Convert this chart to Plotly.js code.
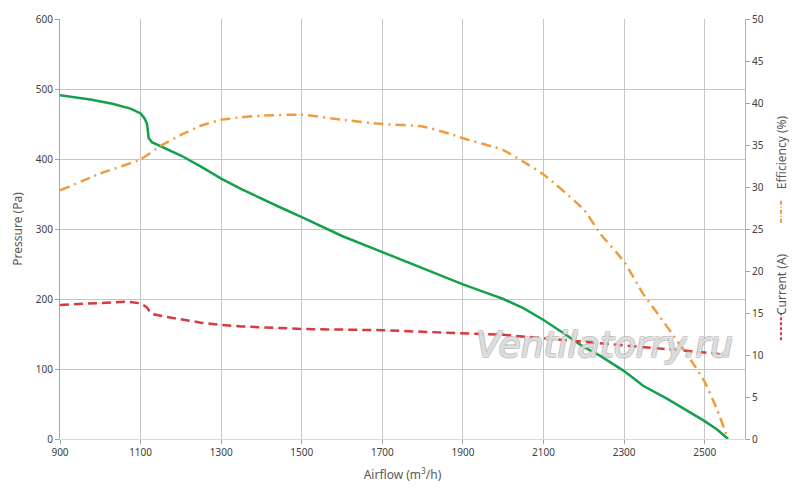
<!DOCTYPE html>
<html>
<head>
<meta charset="utf-8">
<script src="https://cdn.plot.ly/plotly-3.0.1.min.js"></script>
<style>
  html, body { margin: 0; padding: 0; background: #fff; }
  #chart { width: 800px; height: 495px; }
</style>
</head>
<body>
<div id="chart"></div>
<script>
// Pressure curve (Pa, left axis)
const pressureX = [900, 975, 1030, 1075, 1100, 1110, 1116, 1118, 1120, 1128, 1150, 1200, 1250, 1300, 1350, 1400, 1450, 1500, 1600, 1700, 1800, 1900, 1967, 2000, 2050, 2075, 2100, 2150, 2198, 2240, 2300, 2325, 2347, 2405, 2450, 2496, 2530, 2558];
const pressureY = [491, 485, 479, 472, 465, 458, 450, 440, 430, 424, 418, 405, 389, 372, 357, 343, 330, 317, 290, 267, 244, 221, 207, 200, 187, 179, 170, 151, 132, 119, 97, 86, 76, 58, 43, 27, 14, 0];

// Efficiency curve (%, right axis)
const effX = [900, 1000, 1100, 1150, 1200, 1250, 1300, 1350, 1400, 1500, 1600, 1700, 1800, 1870, 1900, 2000, 2050, 2100, 2200, 2240, 2300, 2347, 2388, 2430, 2471, 2500, 2531, 2558];
const effY = [29.6, 31.6, 33.3, 34.9, 36.2, 37.3, 38.0, 38.3, 38.5, 38.6, 38.0, 37.5, 37.2, 36.3, 35.8, 34.4, 33.0, 31.5, 27.3, 24.5, 21.1, 17.3, 14.6, 11.8, 9.0, 6.8, 3.45, 0];

// Current curve (A, right axis)
const currX = [900, 1000, 1065, 1100, 1115, 1127, 1180, 1250, 1300, 1350, 1500, 1700, 1870, 1900, 2000, 2100, 2240, 2300, 2500, 2558];
const currY = [15.95, 16.2, 16.35, 16.15, 15.7, 14.9, 14.4, 13.85, 13.57, 13.4, 13.1, 12.95, 12.65, 12.6, 12.4, 12.0, 11.4, 11.2, 10.3, 10.0];

const green = '#14a04c';
const orange = '#f09c3c';
const red = '#d8393c';
const tickFont = { family: 'Noto Sans, sans-serif', size: 10, color: '#404040' };
const titleFont = { family: 'Noto Sans, sans-serif', size: 12, color: '#595959' };

const traces = [
  {
    x: pressureX, y: pressureY, type: 'scatter', mode: 'lines', name: 'Pressure',
    line: { color: green, width: 2.5 }
  },
  {
    x: effX, y: effY, type: 'scatter', mode: 'lines', name: 'Efficiency', yaxis: 'y2',
    line: { color: orange, width: 2.5, dash: '10px,5px,2px,5px', shape: 'spline', smoothing: 0.5 }
  },
  {
    x: currX, y: currY, type: 'scatter', mode: 'lines', name: 'Current', yaxis: 'y2',
    line: { color: red, width: 2.5, dash: '9px,5px' }
  }
];

const layout = {
  width: 800, height: 495,
  margin: { l: 60, r: 55, t: 19, b: 56 },
  paper_bgcolor: '#fff', plot_bgcolor: '#fff',
  showlegend: false,
  font: tickFont,
  xaxis: {
    range: [900, 2600], tick0: 900, dtick: 200,
    showgrid: true, gridcolor: '#c6c6c6', gridwidth: 1,
    zeroline: false,
    showline: true, linecolor: '#d9d9d9', linewidth: 1,
    ticks: 'outside', ticklen: 4, tickcolor: '#a0a0a0',
    tickfont: tickFont,
    title: { text: 'Airflow (m<sup>3</sup>/h)', font: titleFont, standoff: 12 }
  },
  yaxis: {
    range: [0, 600], dtick: 100,
    showgrid: true, gridcolor: '#c6c6c6', gridwidth: 1,
    zeroline: false,
    showline: true, linecolor: '#a6a6a6', linewidth: 1,
    ticks: 'outside', ticklen: 4, tickcolor: '#a0a0a0',
    tickfont: tickFont,
    title: { text: 'Pressure (Pa)', font: titleFont, standoff: 10 }
  },
  yaxis2: {
    range: [0, 50], dtick: 5,
    overlaying: 'y', side: 'right',
    showgrid: false, zeroline: false,
    showline: true, linecolor: '#b0b0b0', linewidth: 1,
    ticks: 'outside', ticklen: 4, tickcolor: '#a0a0a0',
    tickfont: tickFont
  },
  annotations: [
    {
      text: 'Efficiency (%)', xref: 'paper', yref: 'paper',
      x: 1.0, xshift: 36, y: 0.683, xanchor: 'center', yanchor: 'middle',
      textangle: -90, showarrow: false, font: titleFont
    },
    {
      text: 'Current (A)', xref: 'paper', yref: 'paper',
      x: 1.0, xshift: 36, y: 0.369, xanchor: 'center', yanchor: 'middle',
      textangle: -90, showarrow: false, font: titleFont
    },
    {
      text: 'Ventilatorry.ru', xref: 'paper', yref: 'paper',
      x: 0.795, y: 0.224, xanchor: 'center', yanchor: 'middle', showarrow: false,
      font: {
        family: 'DejaVu Sans, sans-serif', size: 36, style: 'italic',
        color: 'rgba(255,255,255,0.55)',
        shadow: '1px 1px 0 #b0b0b0, -1px -1px 0 #b0b0b0, 1px -1px 0 #b0b0b0, -1px 1px 0 #b0b0b0'
      }
    }
  ],
  shapes: [
    // line samples next to the right axis titles
    {
      type: 'line', xref: 'paper', yref: 'paper', layer: 'above',
      y0: 0.515, y1: 0.572,
      line: { color: orange, width: 2, dash: '4px,2px,1px,2px' }
    },
    {
      type: 'line', xref: 'paper', yref: 'paper', layer: 'above',
      y0: 0.235, y1: 0.3,
      line: { color: red, width: 2, dash: '3px,2px' }
    }
  ]
};

// place the sample lines in pixels to the right of the plot area
layout.shapes.forEach(s => {
  s.xsizemode = 'pixel';
  s.xanchor = 1.0;
  s.x0 = 36;
  s.x1 = 36;
});

Plotly.newPlot('chart', traces, layout, { displayModeBar: false, staticPlot: true });
</script>
</body>
</html>
